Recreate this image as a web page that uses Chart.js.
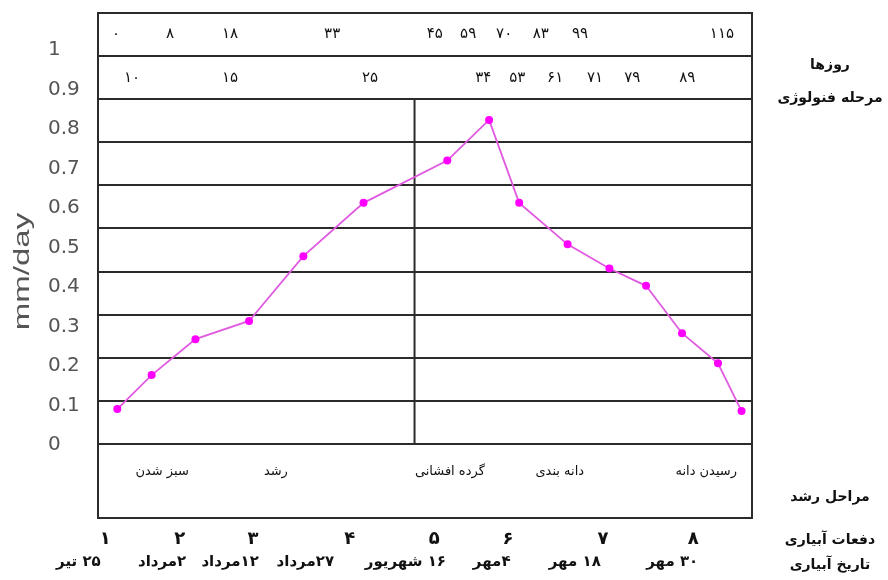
<!DOCTYPE html>
<html lang="fa">
<head>
<meta charset="utf-8">
<title>mm/day</title>
<script src="https://cdn.jsdelivr.net/npm/chart.js@4.4.1/dist/chart.umd.min.js"></script>
<style>
  body { margin: 0; background: #fff; }
  canvas { display: block; }
</style>
</head>
<body>
<canvas id="etChart" width="888" height="580"></canvas>
<script>
// position of each reading along the season (0 = left edge of frame, 100 = right edge)
const seasonPos = [2.95, 8.2, 14.9, 23.1, 31.4, 40.6, 53.4, 59.8, 64.4, 71.8, 78.2, 83.8, 89.3, 94.8, 98.4];
// water use in mm/day
const etValues = [0.091, 0.177, 0.268, 0.314, 0.478, 0.613, 0.72, 0.823, 0.613, 0.508, 0.447, 0.403, 0.283, 0.207, 0.086];

// y labels and the table grid lines (the picture has them slightly out of step)
const yTickValues = [0, 0.1, 0.2, 0.3, 0.4, 0.5, 0.6, 0.7, 0.8, 0.9, 1];
const gridValues = [0, 0.1, 0.2, 0.3, 0.4, 0.5, 0.6, 0.7, 0.8, 0.9, 1];
const dividerPos = 48.4;
const dividerTop = 0.8;
const yTitle = 'mm/day';

// top table rows
const dayLabels = ['۰', '۸', '۱۸', '۳۳', '۴۵', '۵۹', '۷۰', '۸۳', '۹۹', '۱۱۵'];
const dayPos = [2.75, 11.0, 20.2, 35.8, 51.5, 56.6, 62.1, 67.7, 73.7, 95.4];
const phenoLabels = ['۱۰', '۱۵', '۲۵', '۳۴', '۵۳', '۶۱', '۷۱', '۷۹', '۸۹'];
const phenoPos = [5.2, 20.2, 41.6, 58.9, 64.1, 69.9, 76.0, 81.7, 90.1];

// growth stages (bottom box)
const stageLabels = ['سبز شدن', 'رشد', 'گرده افشانی', 'دانه بندی', 'رسیدن دانه'];
const stagePos = [9.8, 27.2, 53.8, 70.6, 93.0];

// irrigations
const irrigationNo = ['۱', '۲', '۳', '۴', '۵', '۶', '۷', '۸'];
const irrigationPos = [1.1, 12.5, 23.7, 38.5, 51.4, 62.7, 77.2, 91.0];
const irrigationDates = ['۲۵ تیر', '۲مرداد', '۱۲مرداد', '۲۷مرداد', '۱۶ شهریور', '۴مهر', '۱۸ مهر', '۳۰ مهر'];
const datePos = [-3.0, 9.8, 20.2, 31.7, 47.0, 60.2, 72.9, 87.8];

// row titles on the right
const rowTitles = ['روزها', 'مرحله فنولوژی', 'مراحل رشد', 'دفعات آبیاری', 'تاریخ آبیاری'];

const lineColor = '#2b2b2b';
const persianFont = '"DejaVu Sans", sans-serif';

// writes the table texts around the plot and the stretched y title
const tableText = {
    id: 'tableText',
    afterDraw(chart) {
        const ctx = chart.ctx;
        const x = chart.scales.x;
        const g = chart.scales.yg;
        const area = chart.chartArea;

        const row = (labels, pos, y, font) => {
            ctx.font = font;
            labels.forEach((t, i) => ctx.fillText(t, x.getPixelForValue(pos[i]), y));
        };

        ctx.save();
        ctx.direction = 'rtl';
        ctx.textAlign = 'center';
        ctx.textBaseline = 'middle';
        ctx.fillStyle = '#111';

        row(dayLabels, dayPos, g.getPixelForValue(0.95), '15px ' + persianFont);
        row(phenoLabels, phenoPos, g.getPixelForValue(0.85), '15px ' + persianFont);
        row(stageLabels, stagePos, g.getPixelForValue(-0.065), '13px ' + persianFont);
        row(irrigationNo, irrigationPos, area.bottom + 21, 'bold 18px ' + persianFont);
        row(irrigationDates, datePos, area.bottom + 44, 'bold 15px ' + persianFont);

        // titles to the right of the frame
        ctx.font = 'bold 14px ' + persianFont;
        const tx = area.right + 78;
        ctx.fillText(rowTitles[0], tx, area.top + 52);
        ctx.fillText(rowTitles[1], tx, area.top + 85);
        ctx.fillText(rowTitles[2], tx, area.bottom - 21);
        ctx.fillText(rowTitles[3], tx, area.bottom + 22);
        ctx.fillText(rowTitles[4], tx, area.bottom + 47);
        ctx.restore();

        // y title, drawn wide like the original
        ctx.save();
        ctx.translate(23, (area.top + area.bottom) / 2 + 6);
        ctx.rotate(-Math.PI / 2);
        ctx.scale(1.5, 1);
        ctx.font = '22px "Liberation Sans", Arial, sans-serif';
        ctx.fillStyle = '#555';
        ctx.textAlign = 'center';
        ctx.textBaseline = 'middle';
        ctx.fillText(yTitle, 0, 0);
        ctx.restore();
    }
};

const ctx = document.getElementById('etChart').getContext('2d');
const etChart = new Chart(ctx, {
    type: 'scatter',
    data: {
        datasets: [{
            label: 'mm/day',
            data: seasonPos.map((p, i) => ({ x: p, y: etValues[i] })),
            showLine: true,
            borderColor: '#e05ae0',
            borderWidth: 1.8,
            pointRadius: 4,
            pointBackgroundColor: '#ff00ff',
            pointBorderWidth: 0,
            xAxisID: 'x',
            yAxisID: 'y'
        }, {
            label: 'divider',
            data: [{ x: dividerPos, y: 0 }, { x: dividerPos, y: dividerTop }],
            showLine: true,
            borderColor: lineColor,
            borderWidth: 2,
            pointRadius: 0,
            xAxisID: 'x',
            yAxisID: 'yg'
        }]
    },
    options: {
        responsive: false,
        animation: false,
        layout: { padding: { top: 13, right: 136, bottom: 62, left: 48 } },
        plugins: {
            legend: { display: false },
            tooltip: { enabled: false }
        },
        scales: {
            x: {
                type: 'linear',
                min: 0,
                max: 100,
                ticks: { display: false },
                grid: { display: false, drawTicks: false },
                border: { display: true, color: lineColor, width: 2 },
                afterFit: (scale) => { scale.height = 0; }
            },
            y: {
                type: 'linear',
                position: 'left',
                min: -0.1848,
                max: 1.0937,
                afterBuildTicks: (scale) => { scale.ticks = yTickValues.map(v => ({ value: v })); },
                ticks: {
                    crossAlign: 'far',
                    color: '#555',
                    font: { family: '"DejaVu Sans", sans-serif', size: 20 },
                    callback: (v) => String(Number(v.toFixed(1)))
                },
                grid: { display: false, drawTicks: false },
                border: { display: true, color: lineColor, width: 2 },
                afterFit: (scale) => {
                    scale.width = 50;
                    scale.paddingTop = 0;
                    scale.paddingBottom = 0;
                }
            },
            yg: {
                type: 'linear',
                position: 'left',
                min: -0.1717,
                max: 1.0,
                afterBuildTicks: (scale) => { scale.ticks = gridValues.map(v => ({ value: v })); },
                ticks: { display: false },
                grid: { color: lineColor, lineWidth: 2, drawTicks: false },
                border: { display: false },
                afterFit: (scale) => { scale.width = 0; }
            },
            yr: {
                type: 'linear',
                position: 'right',
                min: 0,
                max: 1,
                ticks: { display: false },
                grid: { display: false, drawTicks: false },
                border: { display: true, color: lineColor, width: 2 },
                afterFit: (scale) => { scale.width = 0; }
            }
        }
    },
    plugins: [tableText]
});
</script>
</body>
</html>
